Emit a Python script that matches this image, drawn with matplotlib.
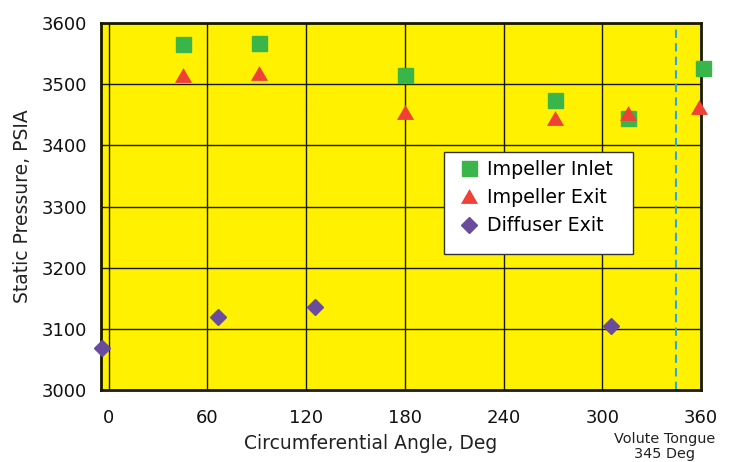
import matplotlib
matplotlib.use("Agg")
import matplotlib.pyplot as plt
from matplotlib.patches import Rectangle

# Data
inlet_angle = [45.2, 91.4, 180.3, 271.2, 315.8, 361.0]
inlet_psia = [3565, 3567, 3515, 3474, 3444, 3526]
exit_angle = [45.2, 91.4, 179.9, 271.4, 315.8, 358.9]
exit_psia = [3515, 3519, 3454, 3444, 3453, 3462]
diff_angle = [-3.8, 66.7, 125.6, 305.4]
diff_psia = [3068, 3120, 3135, 3104]
x_ticks = [0, 60, 120, 180, 240, 300, 360]
y_ticks = [3000, 3100, 3200, 3300, 3400, 3500, 3600]
tongue_angle = 345

YELLOW = "#FFF100"
GREEN = "#39B54A"
RED = "#EF4136"
PURPLE = "#6A4C9C"
CYAN = "#27AAE1"

W, H = 736, 462
fig = plt.figure(figsize=(7.36, 4.62), dpi=100)
ax = fig.add_axes([101/W, 1-390/H, 600/W, 367/H])
ax.set_facecolor(YELLOW)

tri = [(-1, -0.866), (1, -0.866), (0, 0.866), (-1, -0.866)]

ax.plot(inlet_angle, inlet_psia, linestyle="none", marker="s", ms=10.8,
        color=GREEN, mec=GREEN, label="Impeller Inlet", clip_on=False, zorder=5)
ax.plot(exit_angle, exit_psia, linestyle="none", marker=tri, ms=12.3,
        color=RED, mec=RED, mew=0, label="Impeller Exit", clip_on=False, zorder=6)
ax.plot(diff_angle, diff_psia, linestyle="none", marker="D", ms=8.0,
        color=PURPLE, mec=PURPLE, label="Diffuser Exit", clip_on=False, zorder=5)

ax.axvline(tongue_angle, color=CYAN, lw=1.5, linestyle=(0, (4, 2.5)), zorder=3)

ax.set_xlim(-4.6, 360)
ax.set_ylim(3000, 3600)
ax.set_xticks(x_ticks)
ax.set_yticks(y_ticks)
ax.set_xticklabels([str(v) for v in x_ticks])
ax.set_yticklabels([str(v) for v in y_ticks])
ax.tick_params(axis="x", length=0, pad=14, labelsize=13, labelcolor="#111111")
ax.tick_params(axis="y", length=0, pad=10, labelsize=13, labelcolor="#111111")
ax.grid(True, color="#1a1a00", lw=1.0, zorder=1)
ax.set_axisbelow(True)
for s in ax.spines.values():
    s.set_linewidth(2.0)
    s.set_color("#1a1a00")
    s.set_zorder(4)

ax.set_xlabel("Circumferential Angle, Deg", fontsize=13.5, color="#222222")
ax.xaxis.set_label_coords((370.5-101)/600, (390-434)/367)
ax.set_ylabel("Static Pressure, PSIA", fontsize=13.5, color="#222222")
ax.yaxis.set_label_coords((32-101)/600, 0.5)

# legend box
box = Rectangle((444/W, 1-254/H), (633-444)/W, (254-152)/H, transform=fig.transFigure,
                facecolor="white", edgecolor="#333333", lw=1.0, zorder=9)
fig.patches.append(box)

leg = fig.legend(*ax.get_legend_handles_labels(), loc="upper left",
                 bbox_to_anchor=(457.6/W, 1-160/H),
                 frameon=False, fontsize=13.7, handletextpad=0.35,
                 labelspacing=0.48, borderpad=0, handlelength=1.2,
                 borderaxespad=0)
leg.set_zorder(10)

fig.text(665/W, 1-432/H, "Volute Tongue\n345 Deg", ha="center", va="top",
         fontsize=10.4, color="#222222", linespacing=1.12)

fig.savefig("out.png", dpi=100)
